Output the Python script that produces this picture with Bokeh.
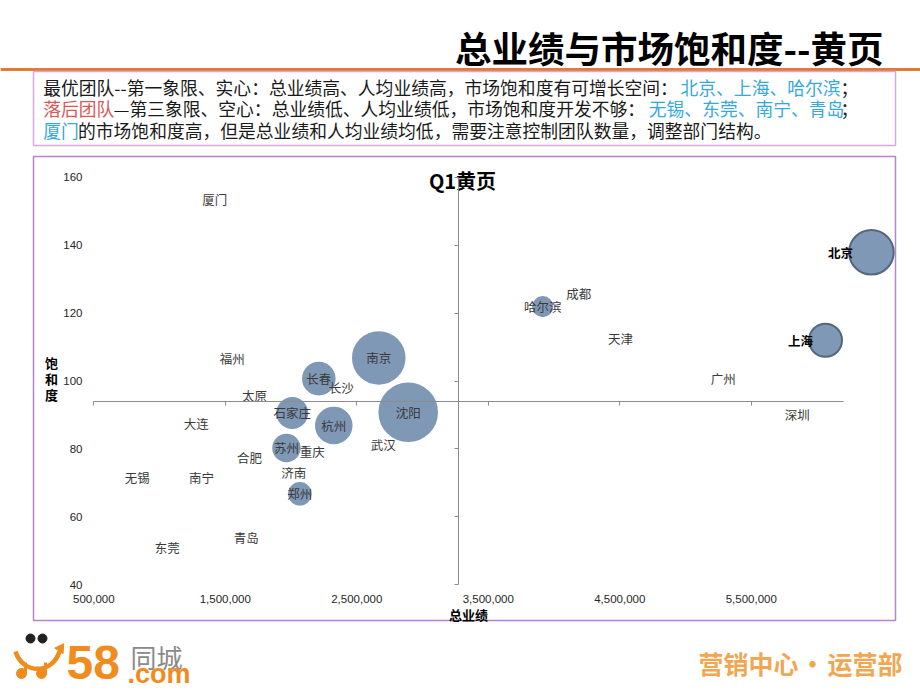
import math
from bokeh.plotting import figure
from bokeh.models import ColumnDataSource, Range1d, LinearAxis, FixedTicker, NumeralTickFormatter
from bokeh.core.properties import value
from bokeh.embed import file_html
from bokeh.resources import INLINE

# ---------------- data ----------------
cities = ["北京", "上海", "哈尔滨", "南京", "沈阳", "长春", "石家庄", "杭州", "苏州", "郑州",
          "厦门", "福州", "太原", "长沙", "大连", "合肥", "重庆", "武汉", "济南",
          "无锡", "南宁", "东莞", "青岛", "成都", "天津", "广州", "深圳"]
total_sales = [6413000, 6064000, 3914000, 2667000, 2891000, 2211000, 2009000, 2325000, 1965000, 2067000,
               1420000, 1552000, 1722000, 2381000, 1279000, 1684000, 2161000, 2701000, 2021000,
               830000, 1319000, 1058000, 1659000, 4188000, 4505000, 5286000, 5849000]
saturation = [137.9, 112.0, 121.9, 106.8, 90.8, 100.7, 90.6, 86.9, 80.3, 66.8,
              153.3, 106.5, 95.7, 98.0, 87.6, 77.6, 79.3, 81.2, 73.0,
              71.5, 71.5, 51.1, 53.8, 125.9, 112.4, 100.8, 90.1]
bubble_size = [60, 33, 11, 80, 100, 30, 27, 38, 21, 14,
               0, 0, 0, 0, 0, 0, 0, 0, 0,
               0, 0, 0, 0, 0, 0, 0, 0]
left_labelled = ["北京", "上海"]

x_ticks = [500000, 1500000, 2500000, 3500000, 4500000, 5500000]
y_ticks = [40, 60, 80, 100, 120, 140, 160]
x_axis_end = 6200000
x_cross = 3270000
y_cross = 94

page_title = "总业绩与市场饱和度--黄页"
chart_title = "Q1黄页"
x_title = "总业绩"
y_title = "饱和度"
footer_right = ["营销中心", "•", "运营部"]

note_lines = [
    [("最优团队--第一象限、实心：总业绩高、人均业绩高，市场饱和度有可增长空间：", "black"),
     ("北京、上海、哈尔滨", "blue"), ("；", "black")],
    [("落后团队", "red"), ("—第三象限、空心：总业绩低、人均业绩低，市场饱和度开发不够：", "black"),
     ("无锡、东莞、南宁、青岛", "blue"), ("；", "black")],
    [("厦门", "blue"), ("的市场饱和度高，但是总业绩和人均业绩均低，需要注意控制团队数量，调整部门结构。", "black")],
]

# ---------------- layout / style ----------------
W, H = 920, 690
PX_PER_X = 131.5 / 1e6
PX_PER_Y = 3.397
X0_VAL, X0_PX = 500000, 93.3
Y0_VAL, Y0_PX = 160, 176.7


def xval(px):
    return X0_VAL + (px - X0_PX) / PX_PER_X


def yval(py):
    return Y0_VAL - (py - Y0_PX) / PX_PER_Y


CJK = value("Noto Sans CJK SC")
LAT = "Liberation Sans"
BUBBLE = "#7f98b6"
OUTLINE = "#56677c"
AXIS = "#8c8c8c"
ORANGE = "#f08c1e"
COLORS = {"black": "#1a1a1a", "blue": "#35a8dc", "red": "#d65a5a"}

p = figure(width=W, height=H, title=None,
           x_range=Range1d(xval(0), xval(W)),
           y_range=Range1d(yval(H), yval(0)),
           x_axis_type=None, y_axis_type=None, min_border=0,
           toolbar_location=None, output_backend="svg",
           background_fill_color="white", border_fill_color="white")
p.outline_line_color = None
p.extra_x_ranges = {"px": Range1d(0, W)}
p.extra_y_ranges = {"px": Range1d(H, 0)}
PX = dict(x_range_name="px", y_range_name="px")

# ---------------- slide decorations ----------------
p.text(x=[883], y=[47], text=[page_title], text_align="right", text_baseline="middle",
       text_font=CJK, text_font_style="bold", text_font_size="36.5px", text_color="#000000", **PX)
p.segment(x0=[0], y0=[69], x1=[W], y1=[69], line_color="#e07b30", line_width=3, **PX)
p.quad(left=[33], right=[895], top=[71], bottom=[145], fill_color=None,
       line_color="#dba6dc", line_width=1.5, **PX)

starts = [[42.7, 680, 840], [42.7, 113, 648.3, 840], [42.7, 77.5]]
line_y = [86, 107.5, 129]
nx, ny, nt, nc = [], [], [], []
for li, segs in enumerate(note_lines):
    for si, (t, c) in enumerate(segs):
        nx.append(starts[li][si]); ny.append(line_y[li]); nt.append(t); nc.append(COLORS[c])
p.text(x="x", y="y", text="t", text_color="c",
       source=ColumnDataSource(dict(x=nx, y=ny, t=nt, c=nc)),
       text_align="left", text_baseline="middle", text_font=CJK, text_font_size="17.8px", **PX)

# chart frame
p.quad(left=[33], right=[895], top=[156], bottom=[620], fill_color=None,
       line_color="#b982cc", line_width=1.5, **PX)

# footer logo
p.bezier(x0=[15], y0=[651], x1=[59], y1=[651], cx0=[22], cy0=[674], cx1=[52], cy1=[674],
         line_color=ORANGE, line_width=4.5, **PX)
p.scatter(x=[60], y=[648], marker="triangle", angle=[-0.6], size=10, color=ORANGE, **PX)
p.segment(x0=[25, 45], y0=[662, 662], x1=[25, 45], y1=[673, 673], line_color=ORANGE, line_width=3, **PX)
p.scatter(x=[21, 41], y=[673, 673], size=10, color=ORANGE, **PX)
p.scatter(x=[30, 42], y=[638, 638], size=9, color="#222222", **PX)
p.text(x=[66], y=[662], text=["58"], text_align="left", text_baseline="middle",
       text_font=value(LAT), text_font_style="bold", text_font_size="48px", text_color=ORANGE, **PX)
p.text(x=[130], y=[656], text=["同城"], text_align="left", text_baseline="middle",
       text_font=CJK, text_font_size="26px", text_color="#8a8a8a", **PX)
p.text(x=[127], y=[673], text=[".com"], text_align="left", text_baseline="middle",
       text_font=value(LAT), text_font_style="bold", text_font_size="27px", text_color=ORANGE, **PX)
p.text(x=[698, 812, 827], y=[662, 662, 662], text=footer_right, text_align=["left", "center", "left"],
       text_baseline="middle", text_font=CJK, text_font_style="bold", text_font_size="25px",
       text_color="#f2a650", **PX)

# ---------------- axes ----------------
ax_x = LinearAxis(fixed_location=y_cross, ticker=FixedTicker(ticks=x_ticks),
                  bounds=(x_ticks[0], x_axis_end), axis_line_color=AXIS, major_tick_line_color=AXIS,
                  major_tick_in=0, major_tick_out=4, minor_tick_line_color=None,
                  major_label_text_color=None)
p.add_layout(ax_x, "below")
ax_y = LinearAxis(fixed_location=x_cross, ticker=FixedTicker(ticks=y_ticks),
                  bounds=(y_ticks[0], y_ticks[-1]), axis_line_color=AXIS, major_tick_line_color=AXIS,
                  major_tick_in=0, major_tick_out=4, minor_tick_line_color=None,
                  major_label_text_color=None)
p.add_layout(ax_y, "left")

lab_x = LinearAxis(fixed_location=yval(593), ticker=FixedTicker(ticks=x_ticks),
                   formatter=NumeralTickFormatter(format="0,0"), axis_line_color=None,
                   major_tick_line_color=None, minor_tick_line_color=None, major_tick_in=0,
                   major_tick_out=0, major_label_standoff=1, major_label_text_font=LAT,
                   major_label_text_font_size="11.5px", major_label_text_color="#262626")
p.add_layout(lab_x, "below")
lab_y = LinearAxis(fixed_location=xval(85), ticker=FixedTicker(ticks=y_ticks),
                   axis_line_color=None, major_tick_line_color=None, minor_tick_line_color=None,
                   major_tick_in=0, major_tick_out=0, major_label_standoff=3, major_label_text_font=LAT,
                   major_label_text_font_size="11.5px", major_label_text_color="#262626")
p.add_layout(lab_y, "left")

# ---------------- bubbles ----------------
R_PER_SQRT = 2.88
bx, by, bd, blc = [], [], [], []
for c, xv, yv, s in zip(cities, total_sales, saturation, bubble_size):
    if s > 0:
        bx.append(xv); by.append(yv); bd.append(2 * R_PER_SQRT * math.sqrt(s))
        blc.append(OUTLINE if c in left_labelled else BUBBLE)
p.scatter("x", "y", size="d", source=ColumnDataSource(dict(x=bx, y=by, d=bd, lc=blc)),
          fill_color=BUBBLE, line_color="lc", line_width=2)

# ---------------- data labels ----------------
cx_, cy_, ct_ = [], [], []
lx_, ly_, lt_, lo_ = [], [], [], []
for c, xv, yv, s in zip(cities, total_sales, saturation, bubble_size):
    if c in left_labelled:
        lx_.append(xv); ly_.append(yv); lt_.append(c); lo_.append(-R_PER_SQRT * math.sqrt(s) + 4)
    else:
        cx_.append(xv); cy_.append(yv); ct_.append(c)
p.text("x", "y", text="t", source=ColumnDataSource(dict(x=cx_, y=cy_, t=ct_)),
       text_align="center", text_baseline="middle", text_font=CJK, text_font_size="12.5px",
       text_color="#3a3a3a")
p.text("x", "y", text="t", x_offset="o", source=ColumnDataSource(dict(x=lx_, y=ly_, t=lt_, o=lo_)),
       text_align="right", text_baseline="middle", text_font=CJK, text_font_size="12.5px",
       text_font_style="bold", text_color="#000000")

# titles
p.text(x=[462], y=[180], text=[chart_title], text_align="center", text_baseline="middle",
       text_font=CJK, text_font_style="bold", text_font_size="20px", text_color="#000000", **PX)
p.text(x=[51, 51, 51], y=[362, 378, 394], text=list(y_title), text_align="center", text_baseline="middle",
       text_font=CJK, text_font_style="bold", text_font_size="13px", text_color="#000000", **PX)
p.text(x=[468], y=[614], text=[x_title], text_align="center", text_baseline="middle",
       text_font=CJK, text_font_style="bold", text_font_size="13px", text_color="#000000", **PX)

open("out.html", "w").write(file_html(p, INLINE))
